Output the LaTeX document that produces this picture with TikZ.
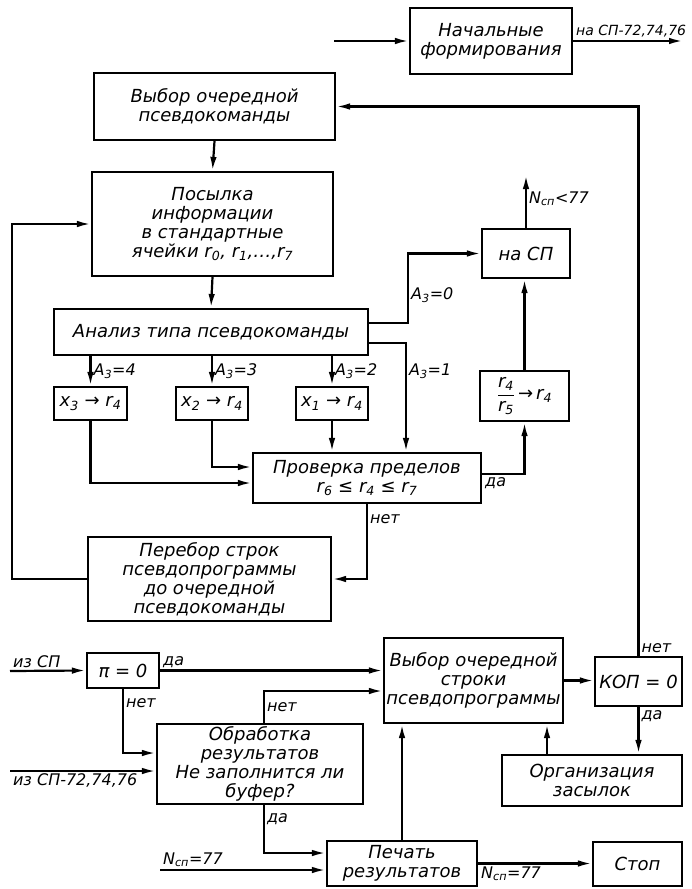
\documentclass[tikz,border=0pt]{standalone}
\usepackage{fontspec}
\setmainfont{DejaVu Sans}
\usetikzlibrary{arrows.meta}

\begin{document}
\begin{tikzpicture}[
                x=1pt, y=-1pt,
                line width=2.2pt,
                >={Latex[length=14pt,width=6.5pt]},
                blk/.style={draw,align=center,inner sep=1pt,font=\fontsize{18}{19}\selectfont\itshape},
                txt/.style={inner sep=2pt,font=\fontsize{16}{17}\selectfont\itshape}]

\useasboundingbox (0,0) rectangle (691,889);

                    % top
                    \node[blk,minimum width=162pt,minimum height=66pt] (NF) at (491,41) {Начальные\\формирования};
                    \node[blk,minimum width=241pt,minimum height=67pt] (VK) at (214.5,106.5) {Выбор очередной\\псевдокоманды};
                    \node[blk,minimum width=241pt,minimum height=104pt] (PI) at (212.5,224) {Посылка\\информации\\в стандартные\\ячейки r\textsubscript{0}, r\textsubscript{1},…,r\textsubscript{7}};
                    \node[blk,minimum width=314pt,minimum height=46pt] (AN) at (211,332) {Анализ типа псевдокоманды};

                    \node[blk,minimum width=73pt,minimum height=33pt] (X3) at (90.5,403.5) {x\textsubscript{3} {\upshape →} r\textsubscript{4}};
                    \node[blk,minimum width=72pt,minimum height=33pt] (X2) at (212,403.5) {x\textsubscript{2} {\upshape →} r\textsubscript{4}};
                    \node[blk,minimum width=72pt,minimum height=33pt] (X1) at (332,403.5) {x\textsubscript{1} {\upshape →} r\textsubscript{4}};

                    \node[blk,minimum width=228pt,minimum height=50pt] (PR) at (367,478) {Проверка пределов\\r\textsubscript{6} {\upshape ≤} r\textsubscript{4} {\upshape ≤} r\textsubscript{7}};
                    \node[blk,minimum width=88pt,minimum height=49pt] (NSP) at (526,253.5) {на СП};
                    \node[blk,minimum width=89pt,minimum height=50pt] (RR) at (524.5,396) {$\displaystyle\frac{\mbox{r\textsubscript{4}}}{\mbox{r\textsubscript{5}}}$\,{\upshape →}\,r\textsubscript{4}};
                    \node[blk,minimum width=243pt,minimum height=84pt] (PB) at (209.5,579) {Перебор строк\\псевдопрограммы\\до очередной\\псевдокоманды};

                    % bottom
                    \node[blk,minimum width=72pt,minimum height=35pt] (PZ) at (123,670.5) {π = 0};
                    \node[blk,minimum width=179pt,minimum height=85pt] (VS) at (473.5,680.5) {Выбор очередной\\строки\\псевдопрограммы};
                    \node[blk,minimum width=87pt,minimum height=49pt] (KOP) at (638.5,681.5) {КОП = 0};
                    \node[blk,minimum width=206pt,minimum height=80pt] (OB) at (260,764) {Обработка\\результатов\\Не заполнится ли\\буфер?};
                    \node[blk,minimum width=180pt,minimum height=51pt] (OZ) at (592,780.5) {Организация\\засылок};
                    \node[blk,minimum width=150pt,minimum height=45pt] (PCH) at (402,863.5) {Печать\\результатов};
                    \node[blk,minimum width=89pt,minimum height=44pt] (ST) at (637.5,864) {Стоп};

                    % free ends
                    \coordinate (NFin) at (334,41);
                    \coordinate (NFout) at (683,41);
                    \coordinate (NSPout) at (526,175);
                    \coordinate (IN1) at (10,671);
                    \coordinate (IN2) at (10,771);
                    \coordinate (IN3) at (160,870);
                    \coordinate (OZup) at ([xshift=-45pt]OZ.north);

                    \draw[->] (NFin) -- (NF.west);
                    \draw[->] (NF.east) -- node[txt,pos=0,above right,inner sep=3pt,xshift=-1pt,font=\fontsize{14}{16}\selectfont\itshape] (lNF) {на СП-72,74,76} (NFout);
                    \draw[->] (VK.south) -- (PI.north);
                    \draw[->] (PI.south) -- (AN.north);

                    \draw[->] ([yshift=9pt]AN.east) -- ++(39,0) |- node[txt,right,pos=0.2] (lA0) {A\textsubscript{3}=0} (NSP.west);
                    \draw[->] ([yshift=-11pt]AN.east) -| node[txt,right,pos=0.63] (lA1) {A\textsubscript{3}=1} ([xshift=39pt]PR.north);
                    \draw[->] (AN.south -| X3.north) -- node[txt,right] (lA4) {A\textsubscript{3}=4} (X3.north);
                    \draw[->] (AN.south -| X2.north) -- node[txt,right] (lA3) {A\textsubscript{3}=3} (X2.north);
                    \draw[->] (AN.south -| X1.north) -- node[txt,right] (lA2) {A\textsubscript{3}=2} (X1.north);

                    \draw[->] (X3.south) |- ([yshift=-5pt]PR.west);
                    \draw[->] (X2.south) |- ([yshift=11pt]PR.west);
                    \draw[->] (X1.south) -- (X1.south |- PR.north);

                    \draw[->] ([yshift=4pt]PR.east) -| node[txt,pos=0,below right] (lDA1) {да} (RR.south);
                    \draw[->] (RR.north) -- (RR.north |- NSP.south);
                    \draw[->] (NSP.north) -- node[txt,right,pos=0.55] (lN1) {N\textsubscript{сп}<77} (NSPout);

                    \draw[->] (PR.south) |- node[txt,right,pos=0.1] (lNET1) {нет} (PB.east);
                    \draw[->] (PB.west) -- ++(-75,0) |- (PI.west);
                    \draw[->] (KOP.north) |- node[txt,pos=0,above right] (lNET2) {нет} (VK.east);

                    \draw[->] (IN1) -- node[txt,pos=0,above right] (lIZ1) {из СП} (PZ.west);
                    \draw[->] (PZ.east) -- node[txt,pos=0,above right] (lDA2) {да} (PZ.east -| VS.west);
                    \draw[->] (PZ.south) |- node[txt,pos=0.05,below right] (lNET3) {нет} ([yshift=11pt]OB.west);
                    \draw[->] ([xshift=4pt]OB.north) |- node[txt,right,pos=0.25] (lNET4) {нет} ([yshift=-10.5pt]VS.west);
                    \draw[->] (IN2) -- node[txt,pos=0,below right] (lIZ2) {из СП-72,74,76} (IN2 -| OB.west);
                    \draw[->] ([xshift=4pt]OB.south) |- node[txt,right,pos=0.15] (lDA3) {да} ([yshift=10.5pt]PCH.west);
                    \draw[->] (IN3) -- node[txt,pos=0,above right] (lN2) {N\textsubscript{сп}=77} (IN3 -| PCH.west);

                    \draw[->] (PCH.north) -- (PCH.north |- VS.south);
                    \draw[->] (PCH.east) -- node[txt,pos=0,below right] (lN3) {N\textsubscript{сп}=77} (PCH.east -| ST.west);
                    \draw[->] (VS.east) -- (VS.east -| KOP.west);
                    \draw[->] (KOP.south) -- node[txt,pos=0,below right] (lDA4) {да} (KOP.south |- OZ.north);
                    \draw[->] (OZup) -- (OZup |- VS.south);

                    \end{tikzpicture}
\end{document}
